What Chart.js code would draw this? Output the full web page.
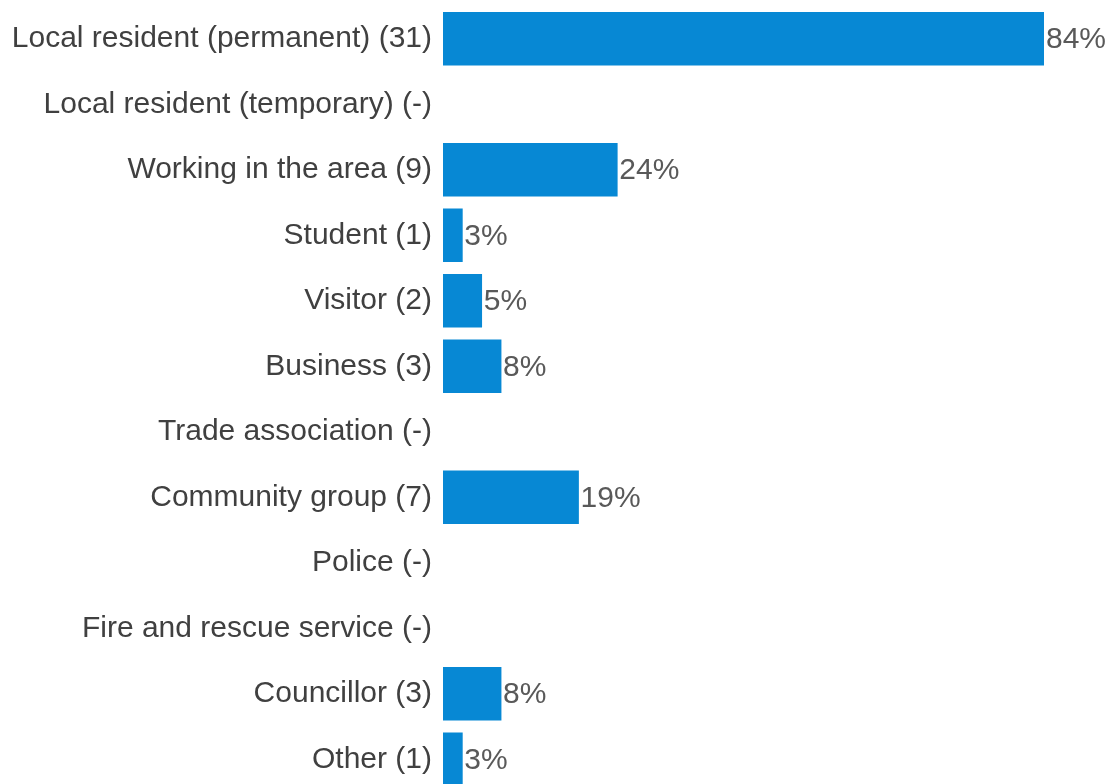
<!DOCTYPE html>
<html>
<head>
<meta charset="utf-8">
<script src="https://cdn.jsdelivr.net/npm/chart.js@4.4.0/dist/chart.umd.min.js"></script>
<style>
  html, body { margin: 0; padding: 0; background: #ffffff; overflow: hidden; }
  #wrap { position: relative; width: 1107px; height: 792px; }
</style>
</head>
<body>
<div id="wrap"><canvas id="chart"></canvas></div>
<script>
// Respondent type — share of respondents (%), n shown in brackets
const categories = [
  'Local resident (permanent) (31)',
  'Local resident (temporary) (-)',
  'Working in the area (9)',
  'Student (1)',
  'Visitor (2)',
  'Business (3)',
  'Trade association (-)',
  'Community group (7)',
  'Police (-)',
  'Fire and rescue service (-)',
  'Councillor (3)',
  'Other (1)'
];
const percentages = [83.8, null, 24.3, 2.7, 5.4, 8.1, null, 18.9, null, null, 8.1, 2.7];

const FONT = "'Liberation Sans', Arial, sans-serif";

// draws the "84%" style labels just past the end of each bar
const valueLabels = {
  id: 'valueLabels',
  afterDatasetsDraw(chart) {
    const ctx = chart.ctx;
    const meta = chart.getDatasetMeta(0);
    ctx.save();
    ctx.font = '30px ' + FONT;
    ctx.fillStyle = '#595959';
    ctx.textAlign = 'left';
    ctx.textBaseline = 'middle';
    meta.data.forEach((bar, i) => {
      const v = percentages[i];
      if (v === null) return;
      ctx.fillText(Math.round(v) + '%', bar.x + 2, bar.y + 1);
    });
    ctx.restore();
  }
};

new Chart(document.getElementById('chart'), {
  type: 'bar',
  data: {
    labels: categories,
    datasets: [{
      data: percentages,
      backgroundColor: '#0788d4',
      borderWidth: 0,
      barThickness: 53,
    }],
  },
  options: {
    indexAxis: 'y',
    responsive: true,
    maintainAspectRatio: false,
    animation: false,
    layout: { padding: { top: 6, right: 63, bottom: 0, left: 0 } },
    plugins: {
      legend: { display: false },
      tooltip: { enabled: false },
    },
    scales: {
      x: {
        display: false,
        min: 0,
        max: 83.8,
      },
      y: {
        grid: { display: false, drawTicks: false },
        border: { display: false },
        ticks: {
          color: '#404040',
          font: { family: FONT, size: 30 },
          padding: 11,
        },
        afterFit(scale) {
          scale.width = 443;
          scale.paddingTop = 0;
          scale.paddingBottom = 0;
        },
      },
    },
  },
  plugins: [valueLabels],
});
</script>
</body>
</html>
